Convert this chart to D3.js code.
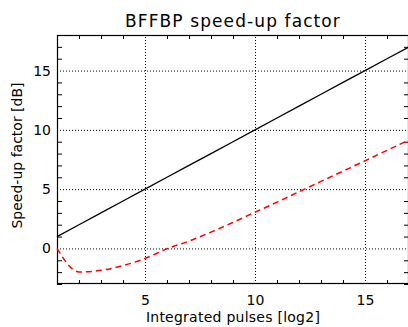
<!DOCTYPE html>
<html><head><meta charset="utf-8">
<script src="https://cdn.jsdelivr.net/npm/d3@7"></script>
<style>
html,body{margin:0;padding:0;background:#fff;}
svg{display:block;}
text{font-family:"DejaVu Sans",sans-serif;fill:#000;}
</style></head>
<body>
<script>
// Data
const pulses = [1,2,3,4,5,6,7,8,9,10,11,12,13,14,15,16,17];
const bffbpIdeal = [1,2,3,4,5,6,7,8,9,10,11,12,13,14,15,16,17];
const bffbpActual = [0,-1.98,-1.85,-1.45,-0.85,-0.03,0.62,1.38,2.2,3.05,3.9,4.78,5.65,6.52,7.39,8.27,9.15];
const xMajorTicks = [5,10,15];
const yMajorTicks = [0,5,10,15];
const xMinorTicks = d3.range(1,18).filter(v=>!xMajorTicks.includes(v));
const yMinorTicks = d3.range(-3,19).filter(v=>!yMajorTicks.includes(v));
const titleText = "BFFBP speed-up factor";
const xLabel = "Integrated pulses [log2]";
const yLabel = "Speed-up factor [dB]";

const W=408,H=327;
const L=57,R=409,T=35,B=284;
const svg=d3.select("body").append("svg").attr("width",W).attr("height",H);
const x=d3.scaleLinear([1,17],[L,R]);
const y=d3.scaleLinear([-3,18],[B,T]);
const ph=B-T, pw=R-L;

function style(g){g.select(".domain").remove();g.selectAll("line").attr("stroke","#000");}

// grid lines (dotted)
svg.append("g").attr("transform",`translate(0,${B})`)
  .call(d3.axisBottom(x).tickValues(xMajorTicks).tickSize(-ph).tickFormat(""))
  .call(style).selectAll("line").attr("stroke-dasharray","1,2");
svg.append("g").attr("transform",`translate(${L},0)`)
  .call(d3.axisLeft(y).tickValues(yMajorTicks).tickSize(-pw).tickFormat(""))
  .call(style).selectAll("line").attr("stroke-dasharray","1,2");

// minor ticks
svg.append("g").attr("transform",`translate(0,${B})`)
  .call(d3.axisBottom(x).tickValues(xMinorTicks).tickSize(-4).tickFormat("")).call(style);
svg.append("g").attr("transform",`translate(0,${T})`)
  .call(d3.axisTop(x).tickValues(xMinorTicks).tickSize(-4).tickFormat("")).call(style);
svg.append("g").attr("transform",`translate(${L},0)`)
  .call(d3.axisLeft(y).tickValues(yMinorTicks).tickSize(-5).tickFormat("")).call(style);
svg.append("g").attr("transform",`translate(${R},0)`)
  .call(d3.axisRight(y).tickValues(yMinorTicks).tickSize(-5).tickFormat("")).call(style);

// tick labels
const xl=svg.append("g").attr("transform",`translate(0,${B})`)
  .call(d3.axisBottom(x).tickValues(xMajorTicks).tickSize(0).tickPadding(11)).call(style);
xl.selectAll("text").attr("font-size",14).style("font-family",'"DejaVu Sans",sans-serif');
const yl=svg.append("g").attr("transform",`translate(${L},0)`)
  .call(d3.axisLeft(y).tickValues(yMajorTicks).tickSize(0).tickPadding(6)).call(style);
yl.selectAll("text").attr("font-size",14).style("font-family",'"DejaVu Sans",sans-serif');

// frame
svg.append("rect").attr("x",L+0.5).attr("y",T+0.5).attr("width",pw-1).attr("height",ph-1)
  .attr("fill","none").attr("stroke","#000").attr("stroke-width",1.2);

// lines
const lineIdeal=d3.line().x((d,i)=>x(pulses[i])).y(d=>y(d));
svg.append("path").attr("d",lineIdeal(bffbpIdeal)).attr("fill","none").attr("stroke","#000").attr("stroke-width",1.3);
const lineAct=d3.line().x((d,i)=>x(pulses[i])).y(d=>y(d)).curve(d3.curveMonotoneX);
svg.append("path").attr("d",lineAct(bffbpActual)).attr("fill","none").attr("stroke","#ff0000")
  .attr("stroke-width",1.5).attr("stroke-dasharray","6,4");

// titles
svg.append("text").attr("x",(L+R)/2).attr("y",27).attr("text-anchor","middle").attr("font-size",17)
  .attr("letter-spacing","1.1px").text(titleText);
svg.append("text").attr("x",(L+R)/2).attr("y",322).attr("text-anchor","middle").attr("font-size",14)
  .attr("letter-spacing","0.25px").text(xLabel);
svg.append("text").attr("transform",`translate(22,${(T+B)/2-4}) rotate(-90)`).attr("text-anchor","middle").attr("font-size",14).text(yLabel);
</script>
</body></html>
